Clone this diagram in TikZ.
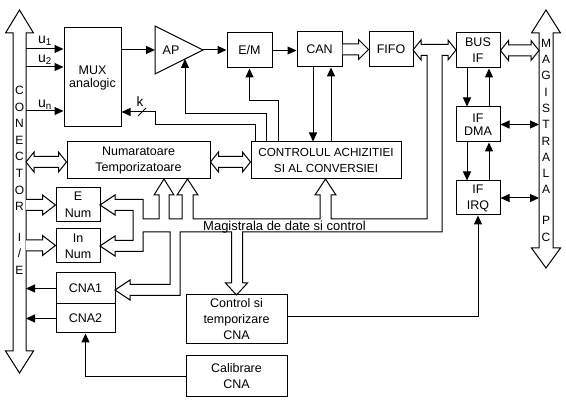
\documentclass[tikz,border=0pt]{standalone}
\usepackage{fontspec}
\setmainfont{Liberation Sans}
\usetikzlibrary{arrows.meta,calc}
\newcommand\hbusdbl[3]{%
  \draw[hollow] let \p1=#1, \p2=#2 in
    (\x1,\y1) -- (\x1+#3,\y1+10pt) -- (\x1+#3,\y1+5.5pt) -- (\x2-#3,\y1+5.5pt) -- (\x2-#3,\y1+10pt) -- (\x2,\y1)
    -- (\x2-#3,\y1-10pt) -- (\x2-#3,\y1-5.5pt) -- (\x1+#3,\y1-5.5pt) -- (\x1+#3,\y1-10pt) -- cycle;}
\newcommand\hbusright[3]{%
  \draw[hollow] let \p1=#1, \p2=#2 in
    (\x1,\y1+5.5pt) -- (\x2-#3,\y1+5.5pt) -- (\x2-#3,\y1+10pt) -- (\x2,\y1) -- (\x2-#3,\y1-10pt) -- (\x2-#3,\y1-5.5pt) -- (\x1,\y1-5.5pt);}
\begin{document}
\begin{tikzpicture}[x=1pt,y=-1pt,line width=1pt,
  font=\fontsize{12.5}{16}\selectfont,
  box/.style={draw, inner sep=0pt, align=center},
  arr/.style={-{Triangle[length=9pt,width=8pt]}},
  darr/.style={{Triangle[length=9pt,width=8pt]}-{Triangle[length=9pt,width=8pt]}},
  hollow/.style={draw, fill=white, line join=miter},
  ulabel/.style={inner sep=0pt, font=\fontsize{14}{16}\selectfont},
  vtext/.style={align=center, inner sep=0pt, font=\fontsize{12}{16.6}\selectfont}]
\useasboundingbox (0,0) rectangle (566,406);

% boxes
\node[box, minimum width=57pt, minimum height=99pt, font=\fontsize{12.5}{13}\selectfont] (mux) at (92.5,77.5) {MUX\\analogic};
\coordinate (ap1) at (155,26);
\coordinate (ap2) at (155,74);
\coordinate (ap3) at (203,50);
\draw (ap1) -- (ap3) -- (ap2) -- cycle;
\node[inner sep=0pt] (ap) at (171,50) {AP};
\node[box, minimum width=45pt, minimum height=35pt] (em) at (249.5,50.5) {E/M};
\node[box, minimum width=45pt, minimum height=35pt] (can) at (319.5,49.5) {CAN};
\node[box, minimum width=44pt, minimum height=35pt] (fifo) at (391,49.5) {FIFO};
\node[box, minimum width=44pt, minimum height=35pt] (busif) at (478,50.5) {BUS\\IF};
\node[box, minimum width=44pt, minimum height=35pt, font=\fontsize{12.5}{12.5}\selectfont] (dma) at (478,124.5) {IF\\DMA};
\node[box, minimum width=44pt, minimum height=34pt] (irq) at (478,198) {IF\\IRQ};
\node[box, minimum width=143pt, minimum height=37pt] (numt) at (138.5,160.5) {Numaratoare\\Temporizatoare};
\node[box, minimum width=150pt, minimum height=37pt, font=\fontsize{11.7}{15.5}\selectfont] (ctrl) at (326,160.5) {CONTROLUL ACHIZITIEI\\SI AL CONVERSIEI};
\node[box, minimum width=44pt, minimum height=34pt, font=\fontsize{12.5}{17}\selectfont] (enum) at (78,205) {E\\Num};
\node[box, minimum width=44pt, minimum height=34pt] (innum) at (78,246) {In\\Num};
\node[box, minimum width=59pt, minimum height=31pt] (cna1) at (85.5,288.5) {CNA1};
\node[box, minimum width=59pt, minimum height=29pt] (cna2) at (85.5,318.5) {CNA2};
\node[box, minimum width=101pt, minimum height=49pt] (ctcna) at (236.5,319.5) {Control si\\temporizare\\CNA};
\node[box, minimum width=101pt, minimum height=41pt] (calcna) at (236.5,376.5) {Calibrare\\CNA};

% connector bus (left) and PC bus (right)
\draw[line join=miter] (19.5,10) -- (33.5,33) -- (26,33) -- (26,351) -- (33.5,351) -- (19.5,373) -- (5.5,351) -- (13,351) -- (13,33) -- (5.5,33) -- cycle;
\node[vtext] (conlbl) at (19.5,148.5) {C\\O\\N\\E\\C\\T\\O\\R};
\node[vtext] (ielbl) at (19.5,253.5) {I\\/\\E};
\draw[line join=miter] (546,10) -- (560.5,33) -- (553,33) -- (553,248) -- (560.5,248) -- (546,268) -- (531.5,248) -- (539,248) -- (539,33) -- (531.5,33) -- cycle;
\node[vtext, font=\fontsize{12}{16.3}\selectfont] (maglbl) at (546,116.5) {M\\A\\G\\I\\S\\T\\R\\A\\L\\A};
\node[vtext, font=\fontsize{12}{17}\selectfont] (pclbl) at (546,228.5) {P\\C};
\coordinate (cR) at (26,0);
\coordinate (magL) at (539,0);

% analog inputs
\coordinate (cu1) at (26,49);
\coordinate (cu2) at (26,67);
\coordinate (cun) at (26,111);
\draw[arr] (cu1) -- (cu1 -| mux.west);
\draw[arr] (cu2) -- (cu2 -| mux.west);
\draw[arr] (cun) -- (cun -| mux.west);
\node[ulabel] (lu1) at (45,41) {u\textsubscript{1}};
\node[ulabel] (lu2) at (45,60) {u\textsubscript{2}};
\node[ulabel] (lun) at (45,104.5) {u\textsubscript{n}};

% signal chain
\draw[arr] (mux.east |- ap) -- (ap1 |- ap);
\draw[arr] (ap3) -- (ap3 -| em.west);
\draw[arr] (em.east) -- (em.east -| can.west);

% control lines from CONTROLUL
\draw[arr] ([xshift=5pt]ctrl.north west) |- (155,125) |- (mux.east |- 0,112);
\draw (138,116) -- (146,108);
\node[inner sep=0pt, font=\fontsize{13.5}{16}\selectfont] (klbl) at (140,102) {k};
\draw[arr] ([xshift=16pt]ctrl.north west) |- (185,114) -- ($(ap2)!0.625!(ap3)$);
\draw[arr] ([xshift=28pt]ctrl.north west) |- (em.south |- 0,101) -- (em.south);
\coordinate (cand) at ([xshift=-6.5pt]can.south);
\coordinate (canu) at ([xshift=11.5pt]can.south);
\draw[arr] (cand) -- (cand |- ctrl.north);
\draw[arr] (canu |- ctrl.north) -- (canu);

% PC side
\coordinate (bd1) at ([xshift=-11pt]busif.south);
\coordinate (bd2) at ([xshift=11pt]busif.south);
\draw[arr] (bd1) -- (bd1 |- dma.north);
\draw[arr] (bd2 |- dma.north) -- (bd2);
\draw[arr] (bd1 |- dma.south) -- (bd1 |- irq.north);
\draw[arr] (bd2 |- irq.north) -- (bd2 |- dma.south);
\draw[darr] (dma.east) -- (dma.east -| magL);
\draw[darr] (irq.east) -- (irq.east -| magL);

% DAC side
\draw[arr] ([yshift=2.5pt]ctcna.east) -| (irq.south);
\draw[arr] (calcna.west) -| (cna2.south);
\draw[arr] (cna1.west) -- (cna1.west -| cR);
\draw[arr] (cna2.west) -- (cna2.west -| cR);

% hollow bus arrows
\coordinate (cnnum) at (26,162);
\coordinate (cnen) at (26,205);
\coordinate (cnin) at (26,245.5);
\hbusdbl{(cnnum)}{(numt.west)}{8pt}
\hbusdbl{([yshift=-1.5pt]numt.east)}{(ctrl.west)}{8pt}
\hbusdbl{(busif.east)}{(busif.east -| magL)}{8pt}
\hbusright{(can.east)}{(fifo.west)}{10pt}
\hbusright{(cnen)}{(enum.west)}{13pt}
\hbusright{(cnin)}{(innum.west)}{13pt}

% internal data and control bus
\draw[hollow] (115,199.5) -- (143,199.5) -- (143,219) -- (159,219) -- (159,195) -- (154,195) -- (164,179) -- (174,195) -- (169,195) -- (169,219)
  -- (182,219) -- (182,195) -- (177,195) -- (187.5,179) -- (198,195) -- (193,195) -- (193,219)
  -- (320,219) -- (320,195) -- (315,195) -- (325.5,179) -- (336,195) -- (331,195) -- (331,219)
  -- (427,219) -- (427,55.5) -- (421,55.5) -- (421,60) -- (413,50) -- (421,40) -- (421,44.5) -- (448,44.5) -- (448,40) -- (456,50) -- (448,60) -- (448,55.5) -- (442,55.5)
  -- (442,232) -- (242.5,232) -- (242.5,283) -- (247.5,283) -- (236.5,295) -- (225.5,283) -- (231.5,283) -- (231.5,232)
  -- (180,232) -- (180,295.5) -- (130,295.5) -- (130,300) -- (115,290) -- (130,280) -- (130,284.5) -- (170,284.5) -- (170,232)
  -- (143,232) -- (143,251.5) -- (115,251.5) -- (115,256) -- (100,246) -- (115,236) -- (115,240.5) -- (133,240.5) -- (133,210.5)
  -- (115,210.5) -- (115,215) -- (100,205) -- (115,195) -- cycle;
\node[inner sep=0pt, anchor=base, font=\fontsize{13}{16}\selectfont] (buslbl) at (284.5,230.5) {Magistrala de date si control};
\end{tikzpicture}
\end{document}
